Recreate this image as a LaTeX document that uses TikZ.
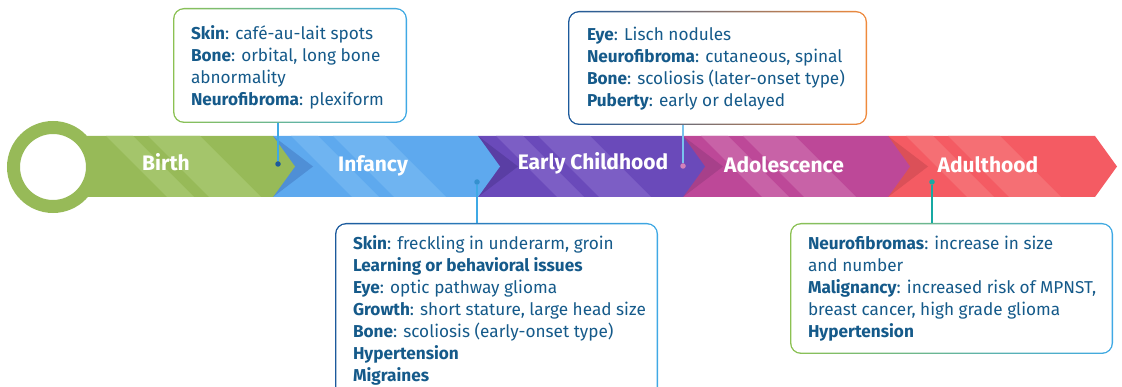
\documentclass[tikz,border=0pt]{standalone}
\usepackage{fontspec}
\setmainfont{Fira Sans}
\usetikzlibrary{positioning}

\definecolor{grnA}{HTML}{97BA58}\definecolor{grnB}{HTML}{A4C56B}\definecolor{grnD}{HTML}{86A84B}
\definecolor{bluA}{HTML}{5EA9EE}\definecolor{bluB}{HTML}{6FB4F1}\definecolor{bluD}{HTML}{4F8FD6}
\definecolor{purA}{HTML}{6A4ABA}\definecolor{purB}{HTML}{7C5EC5}\definecolor{purD}{HTML}{5A3EA4}
\definecolor{magA}{HTML}{BD4898}\definecolor{magB}{HTML}{C862A7}\definecolor{magD}{HTML}{A7408A}
\definecolor{redA}{HTML}{F45B63}\definecolor{redB}{HTML}{F56F74}\definecolor{redD}{HTML}{DB5058}
\definecolor{ink}{HTML}{155A8A}
\definecolor{leaf}{HTML}{8CC152}\definecolor{sky}{HTML}{3FA9E5}\definecolor{navy}{HTML}{1C5A9C}
\definecolor{amber}{HTML}{F08A3C}\definecolor{teal}{HTML}{17A9A3}

\begin{document}
\begin{tikzpicture}[x=1pt, y=-1pt,
  box/.style={rounded corners=11pt, inner sep=0pt,
    path picture={\fill[white, rounded corners=9.6pt]
      ([shift={(1.4pt,-1.4pt)}]path picture bounding box.north west) rectangle
      ([shift={(-1.4pt,1.4pt)}]path picture bounding box.south east);}},
  txt/.style={anchor=north west, inner sep=0pt, align=left, text=ink, font=\fontsize{17.2}{22}\selectfont},
  seg/.style={text=white, font=\fontsize{21}{24}\selectfont\bfseries},
  dot/.style={circle, inner sep=0pt, minimum size=5.5pt},
  link/.style={line width=1.4pt}]
\useasboundingbox (0,0) rectangle (1122,387);

% timeline band, right to left so each tip lies on the next segment
\foreach \s/\e/\o/\base/\lite/\shad in {888/1095/906/redA/redB/redD, 683/888/701/magA/magB/magD,
    478/683/496/purA/purB/purD, 273/478/291/bluA/bluB/bluD, 53/273/106/grnA/grnB/grnD} {
  \fill[\base] (\s,136) -- (\e,136) -- ({\e+22},166.5) -- (\e,197) -- (\s,197) -- cycle;
  \begin{scope}
    \clip (\s,136) -- (\e,136) -- ({\e+22},166.5) -- (\e,197) -- (\s,197) -- cycle;
    \fill[\lite] (\o,136) -- ({\o+27},136) -- ({\o+88},197) -- ({\o+61},197) -- cycle;
    \fill[\lite] ({\o+42},136) -- ({\o+94},136) -- ({\o+155},197) -- ({\o+103},197) -- cycle;
  \end{scope}
  \fill[\shad] (\s,136) -- ({\s+40},166.5) -- (\s,197) -- cycle;
}
\node[circle, draw=grnA, fill=white, line width=13pt, minimum size=79pt] (ring) at (53,167) {};

\node[seg] (birth) at (166,162) {Birth};
\node[seg] (infancy) at (373,166) {Infancy};
\node[seg] (early) at (593,163) {Early Childhood};
\node[seg] (adol) at (784,165) {Adolescence};
\node[seg] (adult) at (988,165) {Adulthood};

% boxes
\node[box, left color=leaf, right color=sky, minimum width=234pt, minimum height=115pt] (b1) at (290,65.5) {};
\node[txt] (t1) at ([xshift=18pt, yshift=-17.6pt]b1.north west)
  {\textbf{Skin}: café-au-lait spots\\\textbf{Bone}: orbital, long bone\\abnormality\\\textbf{Neurofibroma}: plexiform};
\node[box, left color=navy, middle color=sky, right color=amber, minimum width=299pt, minimum height=114pt] (b2) at (717.5,68) {};
\node[txt] (t2) at ([xshift=19pt, yshift=-15.6pt]b2.north west)
  {\textbf{Eye}: Lisch nodules\\\textbf{Neurofibroma}: cutaneous, spinal\\\textbf{Bone}: scoliosis (later-onset type)\\\textbf{Puberty}: early or delayed};
\node[box, left color=navy, right color=sky, minimum width=323pt, minimum height=175pt] (b3) at (496.5,310.5) {};
\node[txt] (t3) at ([xshift=18pt, yshift=-12.6pt]b3.north west)
  {\textbf{Skin}: freckling in underarm, groin\\\textbf{Learning or behavioral issues}\\\textbf{Eye}: optic pathway glioma\\\textbf{Growth}: short stature, large head size\\\textbf{Bone}: scoliosis (early-onset type)\\\textbf{Hypertension}\\\textbf{Migraines}};
\node[box, left color=leaf, right color=sky, minimum width=323pt, minimum height=131pt] (b4) at (951.5,288.5) {};
\node[txt] (t4) at ([xshift=18pt, yshift=-12.6pt]b4.north west)
  {\textbf{Neurofibromas}: increase in size\\and number\\\textbf{Malignancy}: increased risk of MPNST,\\breast cancer, high grade glioma\\\textbf{Hypertension}};

% connectors
\node[dot, fill=navy] (d1) at (278,164) {};
\node[dot, fill=magB!80!white] (d2) at (683,166) {};
\node[dot, fill=sky!70!navy] (d3) at (477,182) {};
\node[dot, fill=teal] (d4) at (932,182) {};
\draw[link, sky] (b1.south -| d1) -- (d1);
\draw[link, sky!70!white] (b2.south -| d2) -- (d2);
\draw[link, sky] (d3) -- (b3.north -| d3);
\draw[link, teal] (d4) -- (b4.north -| d4);
\end{tikzpicture}
\end{document}
